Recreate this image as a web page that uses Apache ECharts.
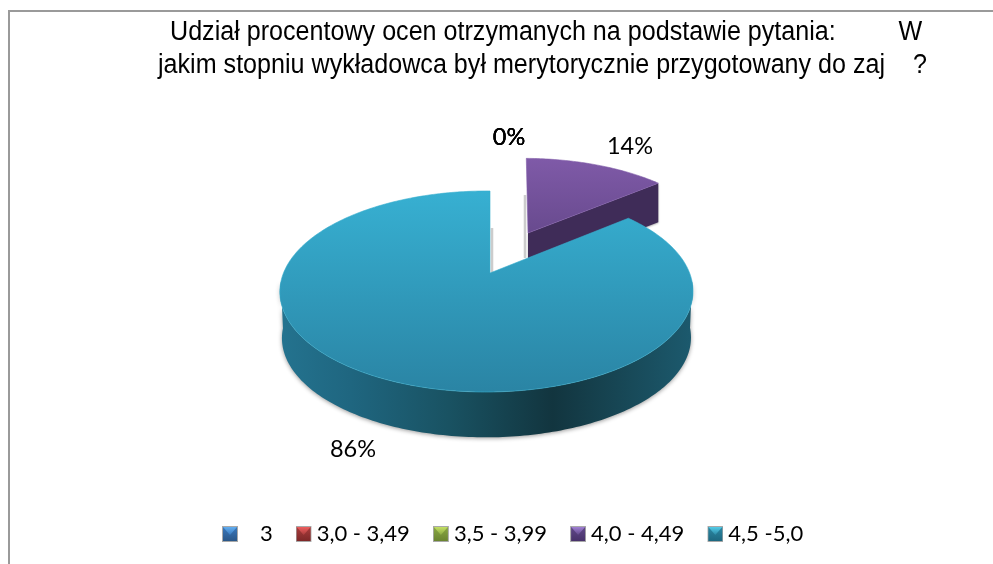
<!DOCTYPE html>
<html><head><meta charset="utf-8">
<style>html,body{margin:0;padding:0;background:#fff}#c{width:993px;height:564px}</style>
<script src="https://cdn.jsdelivr.net/npm/echarts@6/dist/echarts.min.js"></script>
</head><body><div id="c"></div>
<script>
const categories = ['   3', '3,0 - 3,49', '3,5 - 3,99', '4,0 - 4,49', '4,5 -5,0'];
const shares = [0, 0, 0, 14, 86];
const titleLine1 = 'Udział procentowy ocen otrzymanych na podstawie pytania:         W';
const titleLine2 = 'jakim stopniu wykładowca był merytorycznie przygotowany do zaj    ?';

const total = shares.reduce((a, b) => a + b, 0);
const looks = [
  {top:'#4f81bd', low:'#2f5f96', icon:['#3a78bc','#2a5688','#62aef0'], label:[509,137]},
  {top:'#c0504d', low:'#96302e', icon:['#a83c3c','#7e2828','#ee5e5e'], label:[509,137]},
  {top:'#9bbb59', low:'#76923c', icon:['#8aa844','#6a8430','#c4e064'], label:[509,137]},
  {top:'#7f5aa8', low:'#684a8e', wall:'#3f2c58', icon:['#604888','#48326a','#a080d4'], label:[630,146],
   cx:528, cy:233, sx:0.95, sy:0.91, skew:-2, depth:39, shade:[-3,-38,25]},
  {top:'#37b0d2', low:'#2a84a4', icon:['#2c88a4','#1d6880','#54cce8'], label:[353,449],
   cx:490, cy:273, sx:1, sy:1, skew:0, depth:46.5, shade:[2,-45,0]}
];
function iconUrl(c){
  const svg = `<svg xmlns="http://www.w3.org/2000/svg" width="16" height="16">
<defs><linearGradient id="b" x1="0" y1="0" x2="0" y2="1"><stop offset="0" stop-color="${c[0]}"/><stop offset="1" stop-color="${c[1]}"/></linearGradient>
<linearGradient id="t" x1="0" y1="0" x2="0" y2="1"><stop offset="0" stop-color="${c[2]}"/><stop offset="1" stop-color="${c[0]}"/></linearGradient></defs>
<rect width="16" height="16" fill="#a8a8a8"/><rect x="1" y="1" width="14" height="14" fill="url(#b)"/>
<polygon points="1,1 15,1 8,9" fill="url(#t)"/></svg>`;
  return 'image://data:image/svg+xml;charset=utf-8,' + encodeURIComponent(svg);
}
const K = 0.184, M = 0.017, SX = 203, SY = 97.1;
function project(deg, look, drop, shrink){
  const t = deg * Math.PI / 180, s = Math.sin(t), c = Math.cos(t), w = 1 + K * c + M * s;
  const f = shrink || 1;
  return [look.cx + f * (SX * look.sx * s + look.skew * c) / w,
          look.cy + (drop || 0) - f * SY * look.sy * c / w];
}
function arc(a, b, look, drop, shrink){
  const pts = [], n = Math.max(2, Math.ceil(Math.abs(b - a)));
  for (let i = 0; i <= n; i++) pts.push(project(a + (b - a) * i / n, look, drop, shrink));
  return pts;
}
const wallGrad = {type:'linear', x:0, y:0, x2:1, y2:0, colorStops:[
  {offset:0,color:'#24738f'},{offset:.17,color:'#1f6680'},{offset:.41,color:'#195262'},
  {offset:.66,color:'#12353f'},{offset:.78,color:'#16424f'},{offset:1,color:'#1c5a6e'}]};

function renderer(i){
  return function(params, api){
    const look = looks[i], kids = [];
    const before = shares.slice(0, i).reduce((a, b) => a + b, 0);
    const value = api.value(0);
    const a = before / total * 360, b = (before + value) / total * 360;
    if (value > 0) {
      const apex = [look.cx, look.cy];
      kids.push({type:'line', shape:{x1:apex[0] + look.shade[0], y1:apex[1] + look.shade[1], x2:apex[0] + look.shade[0], y2:apex[1] + look.shade[2]},
        style:{stroke:'rgba(0,0,0,.18)', lineWidth:2.5, shadowBlur:2, shadowColor:'rgba(0,0,0,.2)'}});
      if (i === 3) {
        const end = project(b, look);
        kids.push({type:'polygon', shape:{points:[apex, end, [end[0], end[1] + look.depth], [apex[0], apex[1] + look.depth]]},
          style:{fill:look.wall, shadowBlur:2, shadowColor:'rgba(0,0,0,.3)', shadowOffsetY:1}});
      } else {
        const from = Math.max(a, 95), to = Math.min(b, 265);
        const rim = arc(from, to, look).concat(arc(to, from, look, look.depth, 0.99));
        kids.push({type:'polygon', shape:{points:rim},
          style:{fill:wallGrad, shadowBlur:4, shadowColor:'rgba(0,0,0,.4)', shadowOffsetY:1}});
      }
      const face = [apex].concat(arc(a, b, look));
      kids.push({type:'polygon', shape:{points:face},
        style:{fill:{type:'linear',x:0,y:0,x2:0,y2:1,colorStops:[{offset:0,color:look.top},{offset:1,color:look.low}]},
          stroke:i === 4 ? '#38aecf' : look.top, lineWidth:0.6}});
    }
    kids.push({type:'text', x:look.label[0], y:look.label[1],
      style:{text:Math.round(value / total * 100) + '%', font:'23.5px Lato', fill:'#000', align:'center', verticalAlign:'middle'}});
    return {type:'group', children:kids};
  };
}
const titleFont = '27px "Liberation Sans"';
const chart = echarts.init(document.getElementById('c'), null, {renderer:'canvas'});
chart.setOption({
  animation:false,
  backgroundColor:'#fff',
  legend:{left:222, top:523, padding:0, itemWidth:16, itemHeight:16, itemGap:23,
    textStyle:{fontFamily:'Lato', fontSize:22, color:'#000'},
    data:categories.map((name, i) => ({name, icon:iconUrl(looks[i].icon)}))},
  graphic:[
    {type:'line', shape:{x1:9, y1:11, x2:993, y2:11}, style:{stroke:'#9a9a9a', lineWidth:2}, silent:true},
    {type:'line', shape:{x1:9, y1:10, x2:9, y2:564}, style:{stroke:'#9a9a9a', lineWidth:2}, silent:true},
    {type:'text', x:170, y:32.5, scaleX:0.93, style:{text:titleLine1, font:titleFont, fill:'#000', verticalAlign:'middle'}, silent:true},
    {type:'text', x:158, y:66, scaleX:0.93, style:{text:titleLine2, font:titleFont, fill:'#000', verticalAlign:'middle'}, silent:true}
  ],
  series:categories.map((name, i) => ({
    type:'custom', name, coordinateSystem:'none', data:[[shares[i]]], renderItem:renderer(i), silent:true
  }))
});
</script></body></html>
